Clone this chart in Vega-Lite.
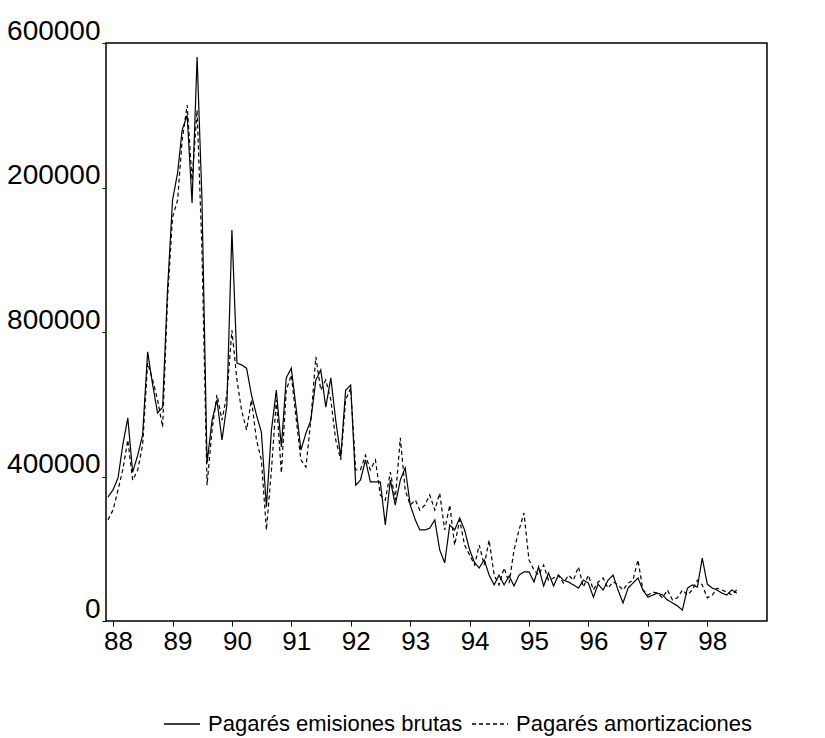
{
  "$schema": "https://vega.github.io/schema/vega-lite/v6.json",
  "width": 661,
  "height": 578,
  "autosize": {"type": "none"},
  "padding": {"left": 106, "top": 43, "right": 58, "bottom": 117},
  "background": "white",
  "config": {
    "view": {"stroke": "black", "strokeWidth": 1.5},
    "font": "Liberation Sans",
    "axis": {"labelColor": "black", "tickColor": "black", "grid": false, "domain": false, "labelFont": "Liberation Sans"},
    "legend": {"labelFont": "Liberation Sans", "labelColor": "black"}
  },
  "data": {"values": [
    {"fecha": "1987-12-01", "brutas": 343000, "amortizaciones": 280000},
    {"fecha": "1988-01-01", "brutas": 363000, "amortizaciones": 307000},
    {"fecha": "1988-02-01", "brutas": 396000, "amortizaciones": 363000},
    {"fecha": "1988-03-01", "brutas": 487000, "amortizaciones": 418000},
    {"fecha": "1988-04-01", "brutas": 562000, "amortizaciones": 501000},
    {"fecha": "1988-05-01", "brutas": 412000, "amortizaciones": 390000},
    {"fecha": "1988-06-01", "brutas": 459000, "amortizaciones": 418000},
    {"fecha": "1988-07-01", "brutas": 515000, "amortizaciones": 487000},
    {"fecha": "1988-08-01", "brutas": 745000, "amortizaciones": 714000},
    {"fecha": "1988-09-01", "brutas": 653000, "amortizaciones": 667000},
    {"fecha": "1988-10-01", "brutas": 576000, "amortizaciones": 612000},
    {"fecha": "1988-11-01", "brutas": 592000, "amortizaciones": 537000},
    {"fecha": "1988-12-01", "brutas": 916000, "amortizaciones": 889000},
    {"fecha": "1989-01-01", "brutas": 1165000, "amortizaciones": 1118000},
    {"fecha": "1989-02-01", "brutas": 1240000, "amortizaciones": 1165000},
    {"fecha": "1989-03-01", "brutas": 1359000, "amortizaciones": 1331000},
    {"fecha": "1989-04-01", "brutas": 1400000, "amortizaciones": 1428000},
    {"fecha": "1989-05-01", "brutas": 1157000, "amortizaciones": 1220000},
    {"fecha": "1989-06-01", "brutas": 1561000, "amortizaciones": 1414000},
    {"fecha": "1989-07-01", "brutas": 1165000, "amortizaciones": 1024000},
    {"fecha": "1989-08-01", "brutas": 437000, "amortizaciones": 376000},
    {"fecha": "1989-09-01", "brutas": 556000, "amortizaciones": 529000},
    {"fecha": "1989-10-01", "brutas": 612000, "amortizaciones": 626000},
    {"fecha": "1989-11-01", "brutas": 501000, "amortizaciones": 556000},
    {"fecha": "1989-12-01", "brutas": 598000, "amortizaciones": 626000},
    {"fecha": "1990-01-01", "brutas": 1082000, "amortizaciones": 805000},
    {"fecha": "1990-02-01", "brutas": 714000, "amortizaciones": 667000},
    {"fecha": "1990-03-01", "brutas": 709000, "amortizaciones": 584000},
    {"fecha": "1990-04-01", "brutas": 700000, "amortizaciones": 529000},
    {"fecha": "1990-05-01", "brutas": 626000, "amortizaciones": 612000},
    {"fecha": "1990-06-01", "brutas": 570000, "amortizaciones": 501000},
    {"fecha": "1990-07-01", "brutas": 523000, "amortizaciones": 446000},
    {"fecha": "1990-08-01", "brutas": 316000, "amortizaciones": 252000},
    {"fecha": "1990-09-01", "brutas": 529000, "amortizaciones": 418000},
    {"fecha": "1990-10-01", "brutas": 639000, "amortizaciones": 612000},
    {"fecha": "1990-11-01", "brutas": 482000, "amortizaciones": 410000},
    {"fecha": "1990-12-01", "brutas": 673000, "amortizaciones": 639000},
    {"fecha": "1991-01-01", "brutas": 700000, "amortizaciones": 681000},
    {"fecha": "1991-02-01", "brutas": 584000, "amortizaciones": 556000},
    {"fecha": "1991-03-01", "brutas": 473000, "amortizaciones": 446000},
    {"fecha": "1991-04-01", "brutas": 520000, "amortizaciones": 426000},
    {"fecha": "1991-05-01", "brutas": 556000, "amortizaciones": 556000},
    {"fecha": "1991-06-01", "brutas": 667000, "amortizaciones": 731000},
    {"fecha": "1991-07-01", "brutas": 695000, "amortizaciones": 639000},
    {"fecha": "1991-08-01", "brutas": 592000, "amortizaciones": 667000},
    {"fecha": "1991-09-01", "brutas": 673000, "amortizaciones": 612000},
    {"fecha": "1991-10-01", "brutas": 556000, "amortizaciones": 501000},
    {"fecha": "1991-11-01", "brutas": 454000, "amortizaciones": 446000},
    {"fecha": "1991-12-01", "brutas": 639000, "amortizaciones": 612000},
    {"fecha": "1992-01-01", "brutas": 653000, "amortizaciones": 645000},
    {"fecha": "1992-02-01", "brutas": 376000, "amortizaciones": 418000},
    {"fecha": "1992-03-01", "brutas": 390000, "amortizaciones": 418000},
    {"fecha": "1992-04-01", "brutas": 446000, "amortizaciones": 459000},
    {"fecha": "1992-05-01", "brutas": 385000, "amortizaciones": 418000},
    {"fecha": "1992-06-01", "brutas": 385000, "amortizaciones": 446000},
    {"fecha": "1992-07-01", "brutas": 385000, "amortizaciones": 349000},
    {"fecha": "1992-08-01", "brutas": 266000, "amortizaciones": 335000},
    {"fecha": "1992-09-01", "brutas": 390000, "amortizaciones": 412000},
    {"fecha": "1992-10-01", "brutas": 321000, "amortizaciones": 335000},
    {"fecha": "1992-11-01", "brutas": 390000, "amortizaciones": 507000},
    {"fecha": "1992-12-01", "brutas": 424000, "amortizaciones": 363000},
    {"fecha": "1993-01-01", "brutas": 321000, "amortizaciones": 321000},
    {"fecha": "1993-02-01", "brutas": 280000, "amortizaciones": 335000},
    {"fecha": "1993-03-01", "brutas": 252000, "amortizaciones": 307000},
    {"fecha": "1993-04-01", "brutas": 252000, "amortizaciones": 321000},
    {"fecha": "1993-05-01", "brutas": 257000, "amortizaciones": 349000},
    {"fecha": "1993-06-01", "brutas": 280000, "amortizaciones": 307000},
    {"fecha": "1993-07-01", "brutas": 197000, "amortizaciones": 354000},
    {"fecha": "1993-08-01", "brutas": 161000, "amortizaciones": 252000},
    {"fecha": "1993-09-01", "brutas": 266000, "amortizaciones": 321000},
    {"fecha": "1993-10-01", "brutas": 252000, "amortizaciones": 210000},
    {"fecha": "1993-11-01", "brutas": 285000, "amortizaciones": 280000},
    {"fecha": "1993-12-01", "brutas": 252000, "amortizaciones": 210000},
    {"fecha": "1994-01-01", "brutas": 197000, "amortizaciones": 183000},
    {"fecha": "1994-02-01", "brutas": 161000, "amortizaciones": 155000},
    {"fecha": "1994-03-01", "brutas": 147000, "amortizaciones": 210000},
    {"fecha": "1994-04-01", "brutas": 169000, "amortizaciones": 155000},
    {"fecha": "1994-05-01", "brutas": 127000, "amortizaciones": 224000},
    {"fecha": "1994-06-01", "brutas": 100000, "amortizaciones": 127000},
    {"fecha": "1994-07-01", "brutas": 127000, "amortizaciones": 100000},
    {"fecha": "1994-08-01", "brutas": 100000, "amortizaciones": 147000},
    {"fecha": "1994-09-01", "brutas": 125000, "amortizaciones": 105000},
    {"fecha": "1994-10-01", "brutas": 97000, "amortizaciones": 197000},
    {"fecha": "1994-11-01", "brutas": 127000, "amortizaciones": 252000},
    {"fecha": "1994-12-01", "brutas": 136000, "amortizaciones": 299000},
    {"fecha": "1995-01-01", "brutas": 136000, "amortizaciones": 169000},
    {"fecha": "1995-02-01", "brutas": 108000, "amortizaciones": 141000},
    {"fecha": "1995-03-01", "brutas": 150000, "amortizaciones": 127000},
    {"fecha": "1995-04-01", "brutas": 97000, "amortizaciones": 155000},
    {"fecha": "1995-05-01", "brutas": 133000, "amortizaciones": 113000},
    {"fecha": "1995-06-01", "brutas": 97000, "amortizaciones": 119000},
    {"fecha": "1995-07-01", "brutas": 127000, "amortizaciones": 127000},
    {"fecha": "1995-08-01", "brutas": 113000, "amortizaciones": 105000},
    {"fecha": "1995-09-01", "brutas": 108000, "amortizaciones": 127000},
    {"fecha": "1995-10-01", "brutas": 100000, "amortizaciones": 113000},
    {"fecha": "1995-11-01", "brutas": 91000, "amortizaciones": 150000},
    {"fecha": "1995-12-01", "brutas": 113000, "amortizaciones": 94000},
    {"fecha": "1996-01-01", "brutas": 105000, "amortizaciones": 127000},
    {"fecha": "1996-02-01", "brutas": 66000, "amortizaciones": 86000},
    {"fecha": "1996-03-01", "brutas": 102000, "amortizaciones": 108000},
    {"fecha": "1996-04-01", "brutas": 86000, "amortizaciones": 119000},
    {"fecha": "1996-05-01", "brutas": 113000, "amortizaciones": 91000},
    {"fecha": "1996-06-01", "brutas": 127000, "amortizaciones": 108000},
    {"fecha": "1996-07-01", "brutas": 86000, "amortizaciones": 100000},
    {"fecha": "1996-08-01", "brutas": 50000, "amortizaciones": 86000},
    {"fecha": "1996-09-01", "brutas": 91000, "amortizaciones": 105000},
    {"fecha": "1996-10-01", "brutas": 105000, "amortizaciones": 113000},
    {"fecha": "1996-11-01", "brutas": 119000, "amortizaciones": 169000},
    {"fecha": "1996-12-01", "brutas": 86000, "amortizaciones": 86000},
    {"fecha": "1997-01-01", "brutas": 66000, "amortizaciones": 72000},
    {"fecha": "1997-02-01", "brutas": 72000, "amortizaciones": 80000},
    {"fecha": "1997-03-01", "brutas": 77000, "amortizaciones": 77000},
    {"fecha": "1997-04-01", "brutas": 72000, "amortizaciones": 64000},
    {"fecha": "1997-05-01", "brutas": 58000, "amortizaciones": 86000},
    {"fecha": "1997-06-01", "brutas": 50000, "amortizaciones": 58000},
    {"fecha": "1997-07-01", "brutas": 42000, "amortizaciones": 64000},
    {"fecha": "1997-08-01", "brutas": 30000, "amortizaciones": 86000},
    {"fecha": "1997-09-01", "brutas": 91000, "amortizaciones": 72000},
    {"fecha": "1997-10-01", "brutas": 100000, "amortizaciones": 86000},
    {"fecha": "1997-11-01", "brutas": 94000, "amortizaciones": 113000},
    {"fecha": "1997-12-01", "brutas": 174000, "amortizaciones": 100000},
    {"fecha": "1998-01-01", "brutas": 102000, "amortizaciones": 64000},
    {"fecha": "1998-02-01", "brutas": 91000, "amortizaciones": 72000},
    {"fecha": "1998-03-01", "brutas": 86000, "amortizaciones": 91000},
    {"fecha": "1998-04-01", "brutas": 77000, "amortizaciones": 86000},
    {"fecha": "1998-05-01", "brutas": 72000, "amortizaciones": 80000},
    {"fecha": "1998-06-01", "brutas": 86000, "amortizaciones": 72000},
    {"fecha": "1998-07-01", "brutas": 77000, "amortizaciones": 86000}
  ]},
  "transform": [
    {"fold": ["brutas", "amortizaciones"], "as": ["serie", "valor"]}
  ],
  "mark": {"type": "line", "strokeWidth": 1.2, "color": "black"},
  "encoding": {
    "x": {
      "field": "fecha",
      "type": "temporal",
      "scale": {
        "domain": [
          {"year": 1987, "month": 11, "date": 19},
          {"year": 1999, "month": 1, "date": 3}
        ]
      },
      "axis": {
        "title": null,
        "format": "%y",
        "values": [
          {"year": 1988}, {"year": 1989}, {"year": 1990}, {"year": 1991},
          {"year": 1992}, {"year": 1993}, {"year": 1994}, {"year": 1995},
          {"year": 1996}, {"year": 1997}, {"year": 1998}
        ],
        "labelFontSize": 26,
        "labelOffset": 5,
        "labelPadding": 2,
        "tickSize": 5,
        "labelFlush": false,
        "labelOverlap": false
      }
    },
    "y": {
      "field": "valor",
      "type": "quantitative",
      "scale": {"domain": [0, 1600000], "nice": false},
      "axis": {
        "title": null,
        "values": [0, 400000, 800000, 1200000, 1600000],
        "labelExpr": "datum.value >= 1000000 ? substring(toString(datum.value), 1) : toString(datum.value)",
        "labelFontSize": 28,
        "labelOffset": -12,
        "labelPadding": 2,
        "tickSize": 4,
        "labelFlush": false,
        "labelOverlap": false
      }
    },
    "strokeDash": {
      "field": "serie",
      "type": "nominal",
      "scale": {"domain": ["brutas", "amortizaciones"], "range": [[1, 0], [4, 3]]},
      "legend": {
        "title": null,
        "orient": "none",
        "legendX": 57,
        "legendY": 662,
        "direction": "horizontal",
        "symbolType": "stroke",
        "symbolSize": 1300,
        "symbolStrokeWidth": 1.3,
        "symbolStrokeColor": "black",
        "labelFontSize": 22,
        "labelOffset": 7,
        "columnPadding": 6,
        "labelLimit": 400,
        "padding": 0,
        "labelExpr": "datum.label == 'brutas' ? 'Pagarés emisiones brutas' : 'Pagarés amortizaciones'"
      }
    }
  }
}
